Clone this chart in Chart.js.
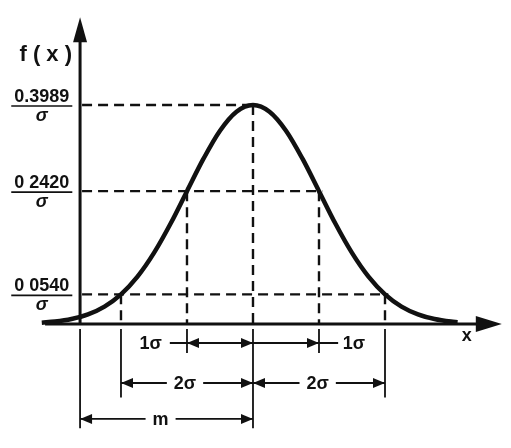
<!DOCTYPE html>
<html>
<head>
<meta charset="utf-8">
<script src="https://cdn.jsdelivr.net/npm/chart.js"></script>
<style>
  html, body { margin: 0; padding: 0; background: #fff; }
  #wrap { width: 511px; height: 448px; }
</style>
</head>
<body>
<div id="wrap"><canvas id="normalChart"></canvas></div>
<script>
// curve, x in sigma units from the mean, y = f(x)*sigma
const sigmaSteps = [-3.2, -3, -2.75, -2.5, -2.25, -2, -1.75, -1.5, -1.25, -1, -0.75, -0.5, -0.25, 0,
                    0.25, 0.5, 0.75, 1, 1.25, 1.5, 1.75, 2, 2.25, 2.5, 2.75, 3, 3.1];
const density = [0.0024, 0.0044, 0.0091, 0.0175, 0.0317, 0.0540, 0.0863, 0.1295, 0.1826, 0.2420, 0.3011, 0.3521, 0.3867, 0.3989,
                 0.3867, 0.3521, 0.3011, 0.2420, 0.1826, 0.1295, 0.0863, 0.0540, 0.0317, 0.0175, 0.0091, 0.0044, 0.0033];

const levelValues = [0.3989, 0.2420, 0.0540];
const levelLabels = ['0.3989', '0 2420', '0 0540'];
const levelReach = [0, 1.05, 2.05];

const markSigmas = [-2, -1, 0, 1, 2];
const markLevels = [0.0540, 0.2420, 0.3989, 0.2420, 0.0540];
const originSigma = -2.62;

const ink = '#111';
const font = 'bold 18px "Liberation Sans", Arial, sans-serif';

function head(ctx, x, y, dir, len, half) {
  ctx.beginPath();
  ctx.moveTo(x, y);
  ctx.lineTo(x - dir * len, y - half);
  ctx.lineTo(x - dir * len, y + half);
  ctx.closePath();
  ctx.fill();
}

// horizontal dimension arrow, label in the middle breaking the line
function dimension(ctx, x1, x2, y, label, labelX) {
  ctx.font = font;
  const w = ctx.measureText(label).width / 2 + 7;
  ctx.beginPath();
  ctx.moveTo(x1, y); ctx.lineTo(labelX - w, y);
  ctx.moveTo(labelX + w, y); ctx.lineTo(x2, y);
  ctx.stroke();
  head(ctx, x1, y, -1, 12, 5);
  head(ctx, x2, y, 1, 12, 5);
  ctx.textAlign = 'center';
  ctx.textBaseline = 'middle';
  ctx.fillText(label, labelX, y + 1);
}

const diagram = {
  id: 'diagram',
  beforeDatasetsDraw(chart) {
    const ctx = chart.ctx;
    const sx = chart.scales.x, sy = chart.scales.y;
    const X = v => sx.getPixelForValue(v);
    const Y = v => sy.getPixelForValue(v);
    ctx.save();
    ctx.strokeStyle = ink;
    ctx.fillStyle = ink;

    // dashed guide lines
    ctx.lineWidth = 2.4;
    ctx.setLineDash([10, 6]);
    levelValues.forEach((v, i) => {
      ctx.beginPath();
      ctx.moveTo(X(originSigma) + 2, Y(v));
      ctx.lineTo(X(levelReach[i]), Y(v));
      ctx.stroke();
    });
    markSigmas.forEach((s, i) => {
      ctx.beginPath();
      ctx.moveTo(X(s), Y(markLevels[i]));
      ctx.lineTo(X(s), Y(0));
      ctx.stroke();
    });
    ctx.setLineDash([]);

    // axes
    ctx.lineWidth = 3;
    ctx.beginPath();
    ctx.moveTo(X(-3.15), Y(0));
    ctx.lineTo(X(3.5), Y(0));
    ctx.moveTo(X(originSigma), Y(0) + 1);
    ctx.lineTo(X(originSigma), Y(0.52));
    ctx.stroke();
    head(ctx, X(3.77), Y(0), 1, 26, 8);
    ctx.beginPath();
    ctx.moveTo(X(originSigma), Y(0.559));
    ctx.lineTo(X(originSigma) - 7, Y(0.559) + 25);
    ctx.lineTo(X(originSigma) + 7, Y(0.559) + 25);
    ctx.closePath();
    ctx.fill();

    // extension lines below the axis
    ctx.lineWidth = 1.8;
    const lows = { '-2': -0.134, '-1': -0.053, '0': -0.19, '1': -0.053, '2': -0.134 };
    ctx.beginPath();
    markSigmas.forEach(s => {
      ctx.moveTo(X(s), Y(-0.009));
      ctx.lineTo(X(s), Y(lows[s]));
    });
    ctx.moveTo(X(originSigma), Y(-0.009));
    ctx.lineTo(X(originSigma), Y(-0.19));
    ctx.stroke();

    // dimension rows
    ctx.lineWidth = 1.8;
    const r1 = Y(-0.0346), r2 = Y(-0.1075), r3 = Y(-0.173);
    ctx.beginPath();
    ctx.moveTo(X(-1.26), r1); ctx.lineTo(X(1.29), r1);
    ctx.stroke();
    head(ctx, X(-1), r1, -1, 12, 5);
    head(ctx, X(0), r1, 1, 12, 5);
    head(ctx, X(1), r1, 1, 12, 5);
    ctx.font = font;
    ctx.textAlign = 'center';
    ctx.textBaseline = 'middle';
    ctx.fillText('1σ', X(-1.55), r1 + 1);
    ctx.fillText('1σ', X(1.53), r1 + 1);

    dimension(ctx, X(-2), X(0), r2, '2σ', X(-1.03));
    dimension(ctx, X(0), X(2), r2, '2σ', X(0.98));
    dimension(ctx, X(originSigma), X(0), r3, 'm', X(-1.4));
    ctx.restore();
  },
  afterDraw(chart) {
    const ctx = chart.ctx;
    const sx = chart.scales.x, sy = chart.scales.y;
    const X = v => sx.getPixelForValue(v);
    const Y = v => sy.getPixelForValue(v);
    ctx.save();
    ctx.fillStyle = ink;
    ctx.strokeStyle = ink;

    // fraction labels on the f(x) axis
    levelValues.forEach((v, i) => {
      const cx = X(-3.2), by = Y(v) + 1;
      ctx.font = 'bold 18px "Liberation Sans", Arial, sans-serif';
      ctx.textAlign = 'center';
      ctx.textBaseline = 'alphabetic';
      ctx.fillText(levelLabels[i], cx, by - 4);
      const w = ctx.measureText(levelLabels[i]).width / 2 + 3;
      ctx.lineWidth = 1.6;
      ctx.beginPath();
      ctx.moveTo(cx - w, by); ctx.lineTo(cx + w, by);
      ctx.stroke();
      ctx.font = 'bold italic 18px "Liberation Sans", Arial, sans-serif';
      ctx.textBaseline = 'middle';
      ctx.fillText('σ', cx, by + 10);
    });

    ctx.font = 'bold 22px "Liberation Sans", Arial, sans-serif';
    ctx.textAlign = 'center';
    ctx.textBaseline = 'middle';
    ctx.fillText('f ( x )', X(-3.14), Y(0.49));
    ctx.font = 'bold 18px "Liberation Sans", Arial, sans-serif';
    ctx.fillText('x', X(3.24), Y(-0.022));
    ctx.restore();
  }
};

new Chart(document.getElementById('normalChart'), {
  type: 'scatter',
  data: {
    datasets: [{
      data: sigmaSteps.map((s, i) => ({ x: s, y: density[i] })),
      showLine: true,
      borderColor: ink,
      borderWidth: 4.5,
      pointRadius: 0,
      cubicInterpolationMode: 'monotone',
      clip: false
    }]
  },
  options: {
    responsive: true,
    maintainAspectRatio: false,
    animation: false,
    layout: { padding: 0 },
    plugins: { legend: { display: false }, tooltip: { enabled: false } },
    scales: {
      x: { type: 'linear', display: false, min: -3.833, max: 3.909 },
      y: { type: 'linear', display: false, min: -0.2259, max: 0.5902 }
    }
  },
  plugins: [diagram]
});
</script>
</body>
</html>
